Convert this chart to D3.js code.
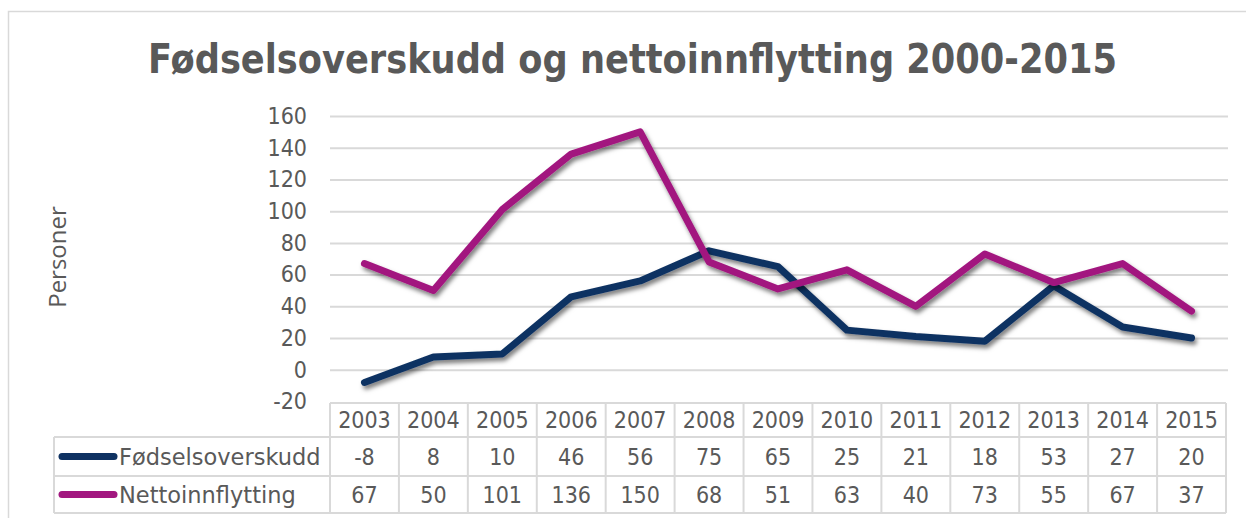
<!DOCTYPE html>
<html>
<head>
<meta charset="utf-8">
<script src="https://cdn.jsdelivr.net/npm/d3@7"></script>
<style>
  body { margin: 0; background: #fff; }
  text { font-family: "DejaVu Sans Condensed", "DejaVu Sans", sans-serif; font-stretch: condensed; fill: #595959; }
</style>
</head>
<body>
<div id="chart"></div>
<script>
// data
const years = ["2003","2004","2005","2006","2007","2008","2009","2010","2011","2012","2013","2014","2015"];
const fodselsoverskudd = [-8, 8, 10, 46, 56, 75, 65, 25, 21, 18, 53, 27, 20];
const nettoinnflytting = [67, 50, 101, 136, 150, 68, 51, 63, 40, 73, 55, 67, 37];
const yTicks = [-20, 0, 20, 40, 60, 80, 100, 120, 140, 160];
const seriesNames = ["Fødselsoverskudd", "Nettoinnflytting"];
const seriesColors = ["#0f3262", "#a2177f"];

const W = 1246, H = 518;
const plot = { left: 330, right: 1226, top: 116, bottom: 401.5 };
const rowH = [34, 39, 37]; // header, row1, row2

const svg = d3.select("#chart").append("svg")
  .attr("width", W).attr("height", H);

// shadow for lines
const defs = svg.append("defs");
const f = defs.append("filter").attr("id", "shadow")
  .attr("x", "-5%").attr("y", "-5%").attr("width", "110%").attr("height", "120%");
f.append("feDropShadow").attr("dx", 2).attr("dy", 3.5)
  .attr("stdDeviation", 2.2).attr("flood-color", "#000").attr("flood-opacity", 0.5);

// outer frame
svg.append("rect")
  .attr("x", 8.5).attr("y", 11.5).attr("width", W).attr("height", H)
  .attr("fill", "none").attr("stroke", "#d9d9d9").attr("stroke-width", 1.5);

// title
svg.append("text")
  .attr("x", 632.5).attr("y", 73)
  .attr("text-anchor", "middle")
  .attr("font-size", 41).attr("font-weight", "bold")
  .attr("textLength", 969).attr("lengthAdjust", "spacingAndGlyphs")
  .text("Fødselsoverskudd og nettoinnflytting 2000-2015");

// scales
const x = d3.scaleBand().domain(years).range([plot.left, plot.right]);
const y = d3.scaleLinear().domain([-20, 160]).range([plot.bottom, plot.top]);

// y axis + gridlines
const yAxis = svg.append("g")
  .attr("transform", `translate(${plot.left},0)`)
  .call(d3.axisLeft(y).tickValues(yTicks).tickFormat(d => String(d))
    .tickSize(-(plot.right + 2 - plot.left)).tickPadding(23));
yAxis.select(".domain").remove();
yAxis.selectAll(".tick line").attr("stroke", "#d9d9d9").attr("stroke-width", 2)
  .filter(d => d === -20).remove();
yAxis.selectAll(".tick text").attr("font-size", 23).attr("fill", "#595959")
  .style("font-family", "'DejaVu Sans Condensed', sans-serif");

// axis title
svg.append("text")
  .attr("transform", "translate(66,257) rotate(-90)")
  .attr("text-anchor", "middle")
  .attr("font-size", 24)
  .style("font-family", "'Open Sans', sans-serif").style("font-stretch", "normal")
  .attr("fill", "#7a7a7a")
  .text("Personer");

// lines
const line = d3.line()
  .x((d, i) => x(years[i]) + x.bandwidth() / 2)
  .y(d => y(d));

[fodselsoverskudd, nettoinnflytting].forEach((vals, i) => {
  svg.append("path")
    .datum(vals)
    .attr("d", line)
    .attr("fill", "none")
    .attr("stroke", seriesColors[i])
    .attr("stroke-width", 7)
    .attr("stroke-linejoin", "round")
    .attr("stroke-linecap", "round")
    .attr("filter", "url(#shadow)");
});

// data table
const tableTop = plot.bottom + 1.5;
const rowY = [tableTop, tableTop + rowH[0], tableTop + rowH[0] + rowH[1]];
const tableBottom = rowY[2] + rowH[2];
const legendLeft = 54;
const tbl = svg.append("g").attr("stroke", "#d9d9d9").attr("stroke-width", 2).attr("fill", "none");

// horizontal lines
tbl.append("line").attr("x1", plot.left).attr("x2", plot.right).attr("y1", rowY[0]).attr("y2", rowY[0]);
[rowY[1], rowY[2], tableBottom].forEach(yy => {
  tbl.append("line").attr("x1", legendLeft).attr("x2", plot.right).attr("y1", yy).attr("y2", yy);
});
// vertical lines
tbl.append("line").attr("x1", legendLeft).attr("x2", legendLeft).attr("y1", rowY[1]).attr("y2", tableBottom);
years.forEach(yr => {
  tbl.append("line").attr("x1", x(yr)).attr("x2", x(yr)).attr("y1", rowY[0]).attr("y2", tableBottom);
});
tbl.append("line").attr("x1", plot.right).attr("x2", plot.right).attr("y1", rowY[0]).attr("y2", tableBottom);

// header years
svg.append("g").selectAll("text").data(years).join("text")
  .attr("x", d => x(d) + x.bandwidth() / 2)
  .attr("y", rowY[0] + rowH[0] / 2 + 8)
  .attr("text-anchor", "middle")
  .attr("font-size", 23)
  .text(d => d);

// rows
[fodselsoverskudd, nettoinnflytting].forEach((vals, i) => {
  const cy = rowY[i + 1] + rowH[i + 1] / 2;
  const g = svg.append("g");
  g.selectAll("text").data(vals).join("text")
    .attr("x", (d, j) => x(years[j]) + x.bandwidth() / 2)
    .attr("y", cy + 8)
    .attr("text-anchor", "middle")
    .attr("font-size", 23)
    .text(d => String(d));
  g.append("line")
    .attr("x1", 62).attr("x2", 114).attr("y1", cy).attr("y2", cy)
    .attr("stroke", seriesColors[i]).attr("stroke-width", 7).attr("stroke-linecap", "round");
  g.append("text")
    .attr("x", 119).attr("y", cy + 8)
    .attr("font-size", 22.5)
    .style("font-family", "'DejaVu Sans', sans-serif").style("font-stretch", "normal")
    .text(seriesNames[i]);
});
</script>
</body>
</html>
